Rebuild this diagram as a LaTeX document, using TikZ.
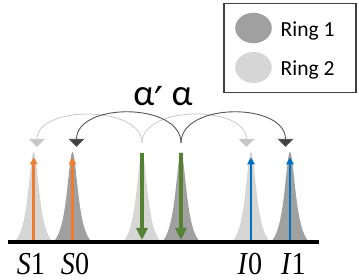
\documentclass[tikz,border=0pt]{standalone}
\usepackage{fontspec}
\setmainfont{Liberation Serif}
\newfontfamily\calib{Carlito}
\newfontfamily\djv{DejaVu Sans}
\usetikzlibrary{arrows.meta}
\definecolor{pkdark}{HTML}{A0A0A0}
\definecolor{pklight}{HTML}{D6D6D6}
\definecolor{triDark}{HTML}{404040}
\definecolor{triLight}{HTML}{C6C6C6}
\definecolor{arcDark}{HTML}{555555}
\definecolor{arcLight}{HTML}{C8C8C8}
\definecolor{orng}{HTML}{ED7D31}
\definecolor{blu}{HTML}{0070C0}
\definecolor{grn}{HTML}{548235}
\definecolor{legbd}{HTML}{404040}
\newcommand\lpeak[2]{\fill[#2] plot[domain=-17.5:17.5,samples=100,smooth] ({#1+\x},{240-88*(49/((\x)*(\x)+49)-0.1379)/0.8621}) -- cycle;}
\begin{document}
\begin{tikzpicture}[x=1pt,y=-1pt,
  lightarc/.style={draw=arcLight,line width=0.8,-{Triangle[width=15.5pt,length=8pt,fill=triLight]}},
  darkarc/.style={draw=arcDark,line width=0.9,-{Triangle[width=15.5pt,length=8pt,fill=triDark]}},
  uparr/.style={line width=2.6,-{Triangle[width=7.5pt,length=7pt]}},
  downarr/.style={draw=grn,line width=3.8,-{Triangle[width=11pt,length=12pt]}},
  lbl/.style={anchor=base,inner sep=0,font=\fontsize{32}{36}\selectfont},
  ringtxt/.style={anchor=base west,inner sep=0,font=\calib\fontsize{21.5}{24}\selectfont}]
\useasboundingbox (0,0) rectangle (359,280);
% peaks
\lpeak{33.7}{pklight}
\lpeak{72.5}{pkdark}
\lpeak{142}{pklight}
\lpeak{181}{pkdark}
\lpeak{251}{pklight}
\lpeak{290}{pkdark}
% baseline
\coordinate (b0) at (8,241.8);
\coordinate (b1) at (319,241.8);
\draw[line width=3.5] (b0) -- (b1);
% peak anchors
\coordinate (pS1) at (33.7,240); \coordinate (tipS1) at (33.7,157.5);
\coordinate (pS0) at (72.5,240); \coordinate (tipS0) at (72.5,157.5);
\coordinate (pI0) at (251,240); \coordinate (tipI0) at (251,157.5);
\coordinate (pI1) at (290,240); \coordinate (tipI1) at (290,157.5);
\coordinate (gLtop) at (142,153); \coordinate (gLbot) at (142,240);
\coordinate (gDtop) at (181,153); \coordinate (gDbot) at (181,240);
\draw[uparr,orng] (pS1) -- (tipS1);
\draw[uparr,orng] (pS0) -- (tipS0);
\draw[uparr,blu] (pI0) -- (tipI0);
\draw[uparr,blu] (pI1) -- (tipI1);
\draw[downarr] (gLtop) -- (gLbot);
\draw[downarr] (gDtop) -- (gDbot);
% arcs
\coordinate (gL) at (142,143);
\coordinate (gD) at (181,143);
\coordinate (tS1) at (37,147);
\coordinate (tS0) at (76.5,147);
\coordinate (tI0) at (246.5,147);
\coordinate (tI1) at (285.5,147);
\draw[lightarc] (gL) .. controls +(0,-38) and +(0,-42) .. (tS1);
\draw[lightarc] (gL) .. controls +(0,-38) and +(0,-42) .. (tI0);
\draw[darkarc] (gD) .. controls +(0,-41) and +(0,-45) .. (tS0);
\draw[darkarc] (gD) .. controls +(0,-41) and +(0,-45) .. (tI1);
% alpha text
\node[anchor=base,inner sep=0] (alpha) at (163,106) {\calib\fontsize{37}{40}\selectfont α\raisebox{-10pt}{\djv\fontsize{40}{44}\selectfont ′}\hspace{8pt}α};
% labels
\node[lbl] (S1) at (31,274.5) {\scalebox{0.88}[1]{\textit{S}1}};
\node[lbl] (S0) at (75,274.5) {\scalebox{0.88}[1]{\textit{S}0}};
\node[lbl] (I0) at (250,274.5) {\scalebox{0.88}[1]{\textit{I}0}};
\node[lbl] (I1) at (293.5,274.5) {\scalebox{0.88}[1]{\textit{I}1}};
% legend
\draw[legbd,line width=1.4] (224,3.5) rectangle (356,92.5);
\fill[pkdark] (253.5,28) ellipse [x radius=18.3, y radius=15.2];
\fill[pklight] (253.5,67.5) ellipse [x radius=18.3, y radius=15.5];
\node[ringtxt] (r1) at (280.5,36.5) {Ring 1};
\node[ringtxt] (r2) at (280.5,75.5) {Ring 2};
\end{tikzpicture}
\end{document}
